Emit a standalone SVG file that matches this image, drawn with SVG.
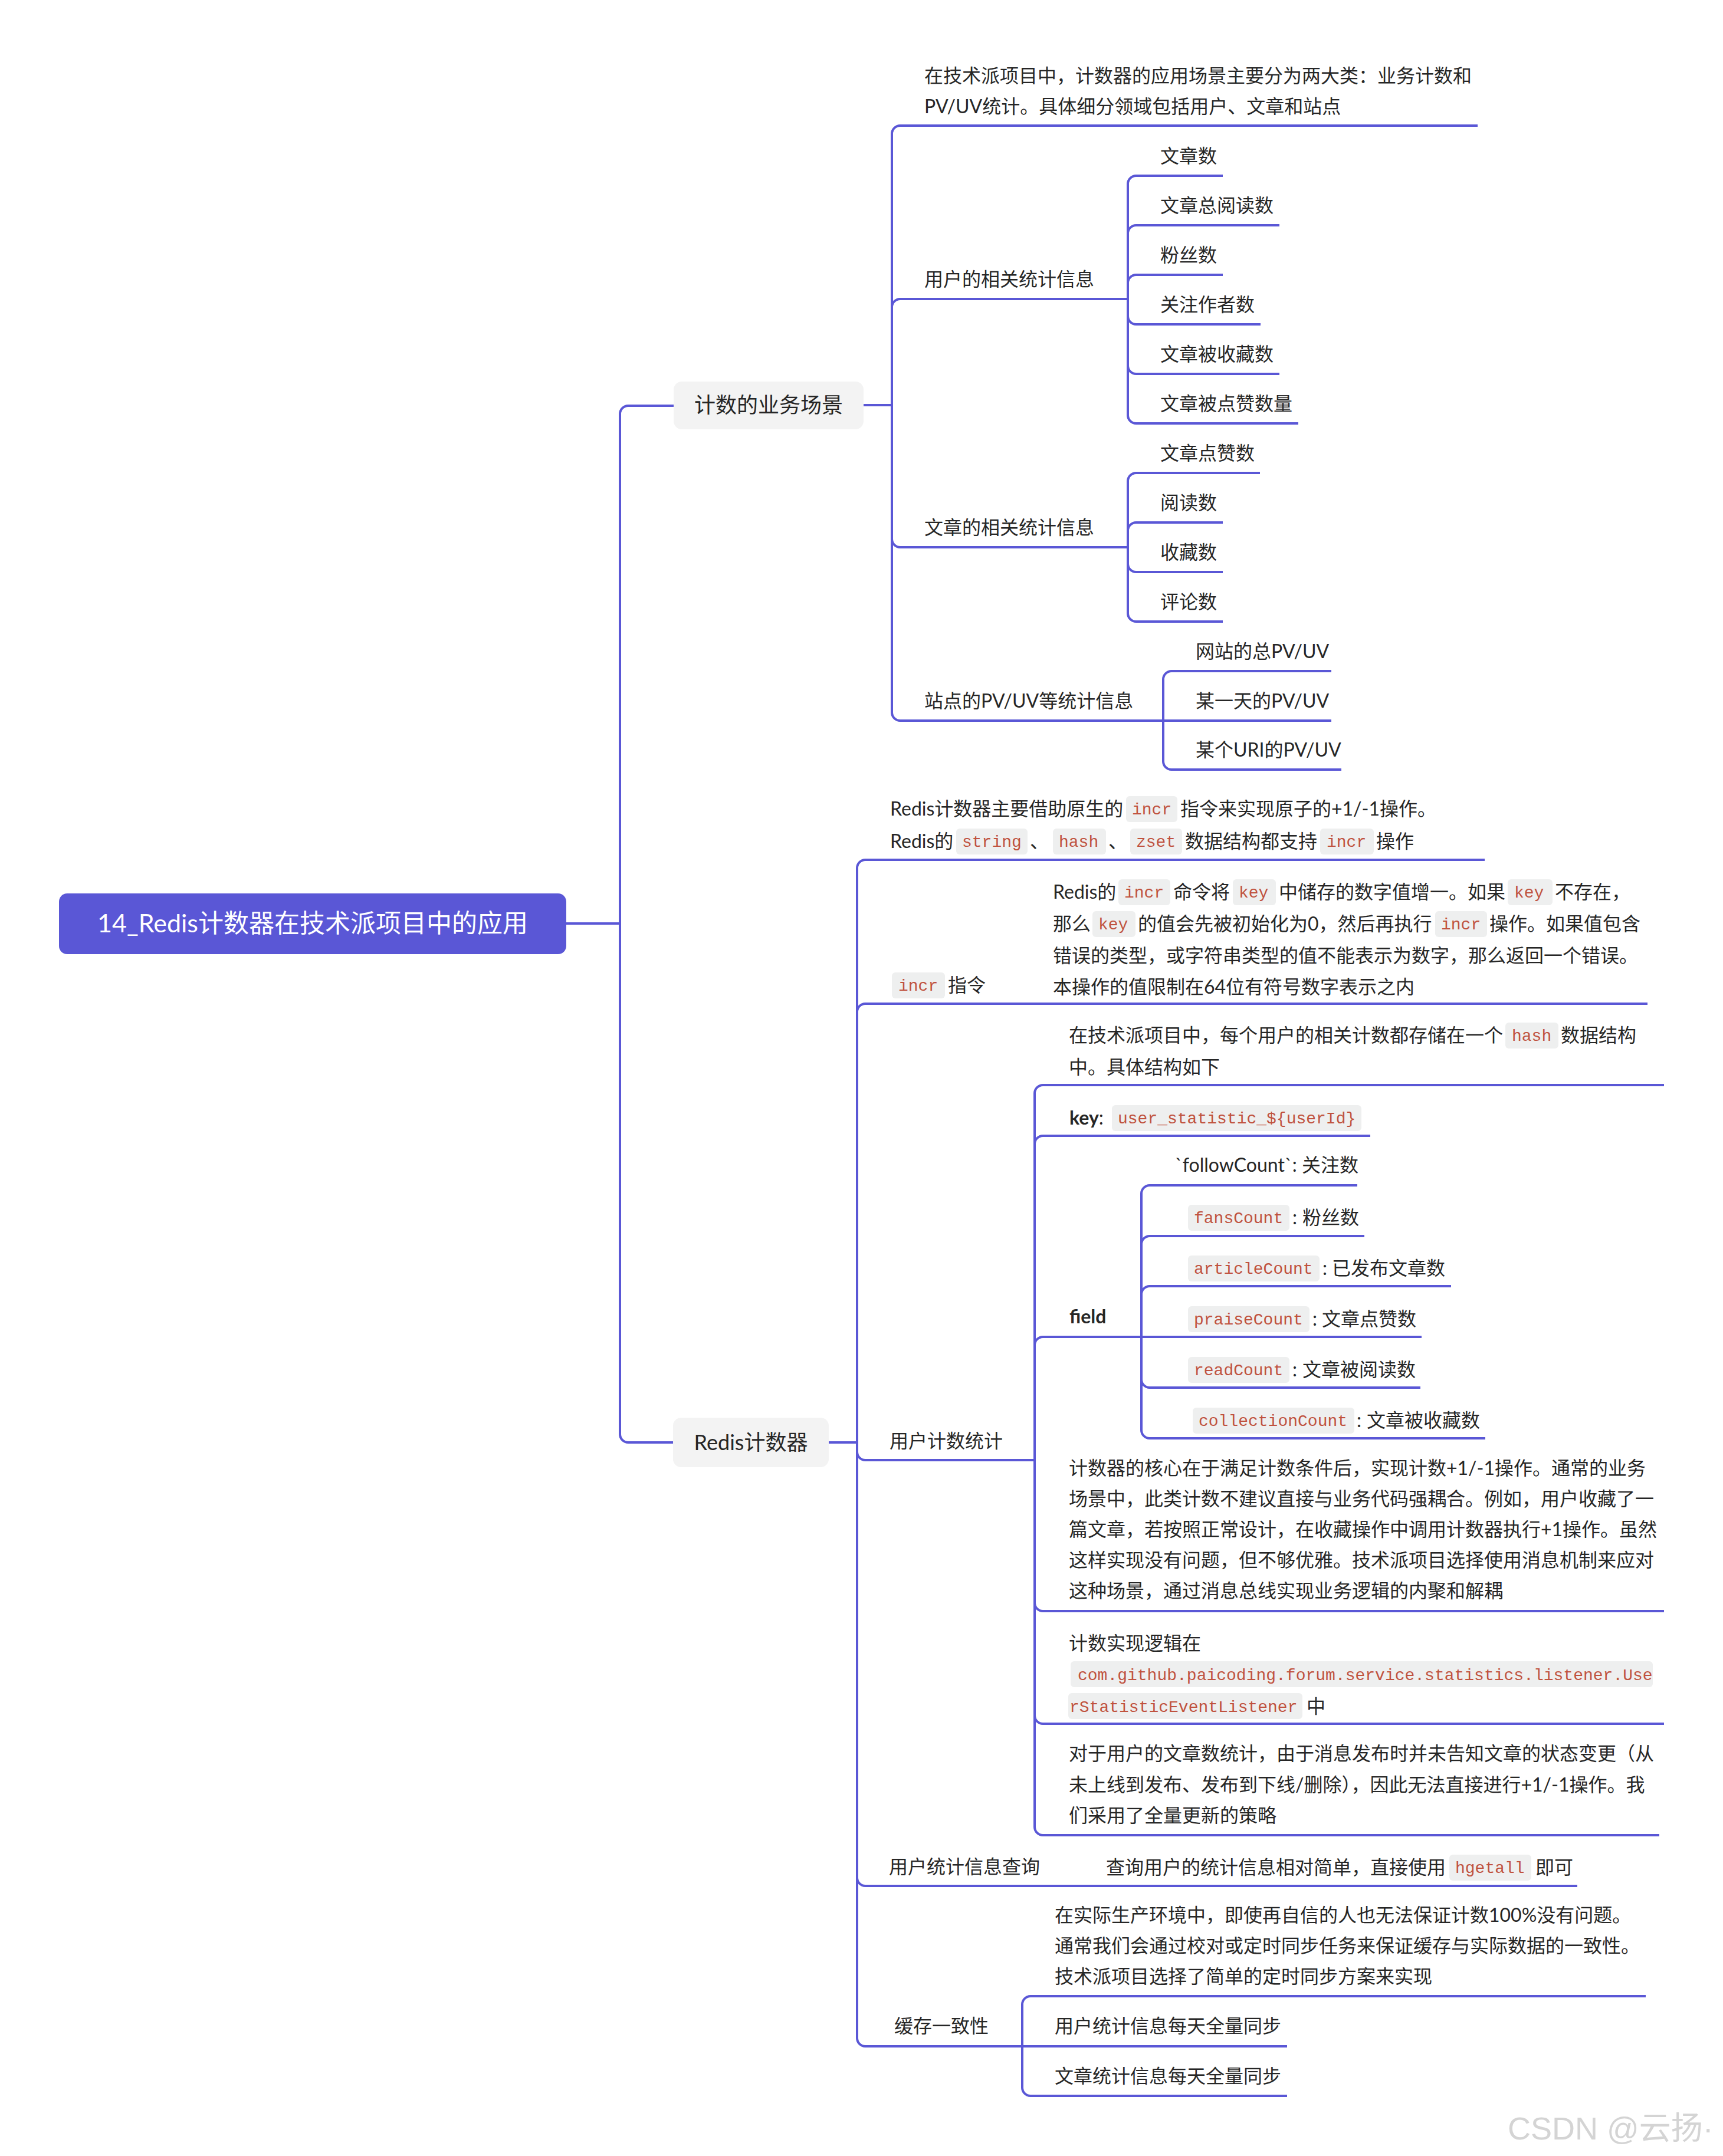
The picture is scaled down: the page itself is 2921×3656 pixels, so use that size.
<svg xmlns="http://www.w3.org/2000/svg" width="2921" height="3656" viewBox="0 0 2921 3656">
<style>
.t{font-family:Lato,"Noto Sans CJK SC",sans-serif;font-size:32px;fill:#262626}
.b{font-weight:bold}
.c{font-family:"Liberation Mono","DejaVu Sans Mono",monospace;font-size:28px;fill:#C0523E}
.chip{fill:#EEEFEF}
.l1{font-family:Lato,"Noto Sans CJK SC",sans-serif;font-size:36px;fill:#262626;text-anchor:middle}
.root{font-family:Lato,"Noto Sans CJK SC",sans-serif;font-size:43px;fill:#FFFFFF;text-anchor:middle}
.ln{fill:none;stroke:#5A57D6;stroke-width:4}
.wm{font-family:"Liberation Sans","Noto Sans CJK SC",sans-serif;font-size:54px;fill:#D4D4D4}
</style>
<rect width="2921" height="3656" fill="#FFFFFF"/>
<g id="connectors" class="ln">
<path d="M960 1566H1051"/>
<path d="M1051 1566V702A14 14 0 0 1 1065 688H1142"/>
<path d="M1051 1566V2432A14 14 0 0 0 1065 2446H1141"/>
<path d="M1464 687H1512"/>
<path d="M1512 687V227A14 14 0 0 1 1526 213H2505"/>
<path d="M1512 687V521A14 14 0 0 1 1526 507H1912"/>
<path d="M1512 687V914A14 14 0 0 0 1526 928H1912"/>
<path d="M1512 687V1208A14 14 0 0 0 1526 1222H1972"/>
<path d="M1912 507V312A14 14 0 0 1 1926 298H2073"/>
<path d="M1912 507V396A14 14 0 0 1 1926 382H2169"/>
<path d="M1912 507V480A14 14 0 0 1 1926 466H2073"/>
<path d="M1912 507V536A14 14 0 0 0 1926 550H2137"/>
<path d="M1912 507V620A14 14 0 0 0 1926 634H2169"/>
<path d="M1912 507V704A14 14 0 0 0 1926 718H2201"/>
<path d="M1912 928V816A14 14 0 0 1 1926 802H2136"/>
<path d="M1912 928V900A14 14 0 0 1 1926 886H2073"/>
<path d="M1912 928V956A14 14 0 0 0 1926 970H2073"/>
<path d="M1912 928V1040A14 14 0 0 0 1926 1054H2073"/>
<path d="M1972 1222V1152A14 14 0 0 1 1986 1138H2257"/>
<path d="M1972 1222H2257"/>
<path d="M1972 1222V1291A14 14 0 0 0 1986 1305H2274"/>
<path d="M1405 2446H1453"/>
<path d="M1453 2446V1472A14 14 0 0 1 1467 1458H2517"/>
<path d="M1453 2446V1716A14 14 0 0 1 1467 1702H2793"/>
<path d="M1453 2446V2462A14 14 0 0 0 1467 2476H1754"/>
<path d="M1453 2446V3184A14 14 0 0 0 1467 3198H2674"/>
<path d="M1453 2446V3456A14 14 0 0 0 1467 3470H1733"/>
<path d="M1754 2476V1854A14 14 0 0 1 1768 1840H2821"/>
<path d="M1754 2476V1940A14 14 0 0 1 1768 1926H2323"/>
<path d="M1754 2476V2281A14 14 0 0 1 1768 2267H1935"/>
<path d="M1754 2476V2718A14 14 0 0 0 1768 2732H2821"/>
<path d="M1754 2476V2909A14 14 0 0 0 1768 2923H2821"/>
<path d="M1754 2476V3098A14 14 0 0 0 1768 3112H2813"/>
<path d="M1935 2267V2024A14 14 0 0 1 1949 2010H2301"/>
<path d="M1935 2267V2110A14 14 0 0 1 1949 2096H2313"/>
<path d="M1935 2267V2195A14 14 0 0 1 1949 2181H2460"/>
<path d="M1935 2267H2410"/>
<path d="M1935 2267V2339A14 14 0 0 0 1949 2353H2408"/>
<path d="M1935 2267V2425A14 14 0 0 0 1949 2439H2518"/>
<path d="M1733 3470V3399A14 14 0 0 1 1747 3385H2790"/>
<path d="M1733 3470H2182"/>
<path d="M1733 3470V3540A14 14 0 0 0 1747 3554H2182"/>
</g>
<g id="root">
<rect x="100" y="1515" width="860" height="103" rx="14" fill="#5A57D6"/>
<text class="root" x="530" y="1581">14_Redis计数器在技术派项目中的应用</text>
</g>
<g id="n-scene">
<rect x="1142" y="647" width="322" height="81" rx="14" fill="#F3F3F3"/>
<text class="l1" x="1303" y="700">计数的业务场景</text>
</g>
<g id="n-redis">
<rect x="1141" y="2404" width="264" height="84" rx="14" fill="#F3F3F3"/>
<text class="l1" x="1273" y="2459">Redis计数器</text>
</g>
<g id="n-scene-intro">
<text class="t" x="1567" y="140">在技术派项目中，计数器的应用场景主要分为两大类：业务计数和</text>
<text class="t" x="1567" y="192">PV/UV统计。具体细分领域包括用户、文章和站点</text>
</g>
<g id="n-user-stat"><text class="t" x="1567" y="485">用户的相关统计信息</text></g>
<g id="n-u1"><text class="t" x="1967" y="276">文章数</text></g>
<g id="n-u2"><text class="t" x="1967" y="360">文章总阅读数</text></g>
<g id="n-u3"><text class="t" x="1967" y="444">粉丝数</text></g>
<g id="n-u4"><text class="t" x="1967" y="528">关注作者数</text></g>
<g id="n-u5"><text class="t" x="1967" y="612">文章被收藏数</text></g>
<g id="n-u6"><text class="t" x="1967" y="696">文章被点赞数量</text></g>
<g id="n-article-stat"><text class="t" x="1567" y="906">文章的相关统计信息</text></g>
<g id="n-a1"><text class="t" x="1967" y="780">文章点赞数</text></g>
<g id="n-a2"><text class="t" x="1967" y="864">阅读数</text></g>
<g id="n-a3"><text class="t" x="1967" y="948">收藏数</text></g>
<g id="n-a4"><text class="t" x="1967" y="1032">评论数</text></g>
<g id="n-site-stat"><text class="t" x="1567" y="1200">站点的PV/UV等统计信息</text></g>
<g id="n-s1"><text class="t" x="2027" y="1116">网站的总PV/UV</text></g>
<g id="n-s2"><text class="t" x="2027" y="1200">某一天的PV/UV</text></g>
<g id="n-s3"><text class="t" x="2027" y="1283">某个URI的PV/UV</text></g>
<g id="n-redis-intro">
<text class="t" x="1509" y="1383">Redis计数器主要借助原生的</text>
<rect class="chip" x="1909" y="1350" width="87" height="44" rx="6"/>
<text class="c" x="1919" y="1381">incr</text>
<text class="t" x="2001" y="1383">指令来实现原子的+1/-1操作。</text>
<text class="t" x="1509" y="1438">Redis的</text>
<rect class="chip" x="1621" y="1405" width="121" height="44" rx="6"/>
<text class="c" x="1631" y="1436">string</text>
<text class="t" x="1746" y="1438">、</text>
<rect class="chip" x="1785" y="1405" width="90" height="44" rx="6"/>
<text class="c" x="1795" y="1436">hash</text>
<text class="t" x="1879" y="1438">、</text>
<rect class="chip" x="1916" y="1405" width="88" height="44" rx="6"/>
<text class="c" x="1926" y="1436">zset</text>
<text class="t" x="2009" y="1438">数据结构都支持</text>
<rect class="chip" x="2238" y="1405" width="91" height="44" rx="6"/>
<text class="c" x="2249" y="1436">incr</text>
<text class="t" x="2333" y="1438">操作</text>
</g>
<g id="n-incr">
<rect class="chip" x="1512" y="1649" width="90" height="44" rx="6"/>
<text class="c" x="1523" y="1680">incr</text>
<text class="t" x="1607" y="1682">指令</text>
</g>
<g id="n-incr-desc">
<text class="t" x="1785" y="1524">Redis的</text>
<rect class="chip" x="1896" y="1491" width="88" height="44" rx="6"/>
<text class="c" x="1906" y="1522">incr</text>
<text class="t" x="1989" y="1524">命令将</text>
<rect class="chip" x="2090" y="1491" width="73" height="44" rx="6"/>
<text class="c" x="2100" y="1522">key</text>
<text class="t" x="2168" y="1524">中储存的数字值增一。如果</text>
<rect class="chip" x="2556" y="1491" width="76" height="44" rx="6"/>
<text class="c" x="2567" y="1522">key</text>
<text class="t" x="2636" y="1524">不存在，</text>
<text class="t" x="1785" y="1578">那么</text>
<rect class="chip" x="1852" y="1545" width="73" height="44" rx="6"/>
<text class="c" x="1862" y="1576">key</text>
<text class="t" x="1929" y="1578">的值会先被初始化为0，然后再执行</text>
<rect class="chip" x="2433" y="1545" width="88" height="44" rx="6"/>
<text class="c" x="2443" y="1576">incr</text>
<text class="t" x="2525" y="1578">操作。如果值包含</text>
<text class="t" x="1785" y="1632">错误的类型，或字符串类型的值不能表示为数字，那么返回一个错误。</text>
<text class="t" x="1785" y="1685">本操作的值限制在64位有符号数字表示之内</text>
</g>
<g id="n-user-count"><text class="t" x="1508" y="2455">用户计数统计</text></g>
<g id="n-hash-desc">
<text class="t" x="1812" y="1767">在技术派项目中，每个用户的相关计数都存储在一个</text>
<rect class="chip" x="2552" y="1734" width="90" height="44" rx="6"/>
<text class="c" x="2563" y="1765">hash</text>
<text class="t" x="2646" y="1767">数据结构</text>
<text class="t" x="1812" y="1821">中。具体结构如下</text>
</g>
<g id="n-key">
<text class="t" x="1813" y="1907"><tspan class="b">key</tspan>:</text>
<rect class="chip" x="1885" y="1874" width="423" height="44" rx="6"/>
<text class="c" x="1895" y="1905">user_statistic_${userId}</text>
</g>
<g id="n-field"><text class="t b" x="1813" y="2244">field</text></g>
<g id="n-f1"><text class="t" x="1992" y="1987">`followCount`: 关注数</text></g>
<g id="n-f2">
<rect class="chip" x="2014" y="2043" width="172" height="44" rx="6"/>
<text class="c" x="2024" y="2074">fansCount</text>
<text class="t" x="2191" y="2076">:</text>
<text class="t" x="2208" y="2076">粉丝数</text>
</g>
<g id="n-f3">
<rect class="chip" x="2014" y="2129" width="223" height="44" rx="6"/>
<text class="c" x="2024" y="2160">articleCount</text>
<text class="t" x="2242" y="2162">:</text>
<text class="t" x="2258" y="2162">已发布文章数</text>
</g>
<g id="n-f4">
<rect class="chip" x="2014" y="2215" width="206" height="44" rx="6"/>
<text class="c" x="2024" y="2246">praiseCount</text>
<text class="t" x="2225" y="2248">:</text>
<text class="t" x="2241" y="2248">文章点赞数</text>
</g>
<g id="n-f5">
<rect class="chip" x="2014" y="2301" width="172" height="44" rx="6"/>
<text class="c" x="2024" y="2332">readCount</text>
<text class="t" x="2191" y="2334">:</text>
<text class="t" x="2208" y="2334">文章被阅读数</text>
</g>
<g id="n-f6">
<rect class="chip" x="2022" y="2387" width="274" height="44" rx="6"/>
<text class="c" x="2032" y="2418">collectionCount</text>
<text class="t" x="2300" y="2420">:</text>
<text class="t" x="2317" y="2420">文章被收藏数</text>
</g>
<g id="n-core">
<text class="t" x="1812" y="2501">计数器的核心在于满足计数条件后，实现计数+1/-1操作。通常的业务</text>
<text class="t" x="1812" y="2553">场景中，此类计数不建议直接与业务代码强耦合。例如，用户收藏了一</text>
<text class="t" x="1812" y="2605">篇文章，若按照正常设计，在收藏操作中调用计数器执行+1操作。虽然</text>
<text class="t" x="1812" y="2657">这样实现没有问题，但不够优雅。技术派项目选择使用消息机制来应对</text>
<text class="t" x="1812" y="2709">这种场景，通过消息总线实现业务逻辑的内聚和解耦</text>
</g>
<g id="n-impl">
<text class="t" x="1812" y="2798">计数实现逻辑在</text>
<rect class="chip" x="1815" y="2817" width="987" height="44" rx="6"/>
<text class="c" x="1827" y="2849">com.github.paicoding.forum.service.statistics.listener.Use</text>
<rect class="chip" x="1811" y="2871" width="397" height="44" rx="6"/>
<text class="c" x="1813" y="2903">rStatisticEventListener</text>
<text class="t" x="2215" y="2905">中</text>
</g>
<g id="n-article-count">
<text class="t" x="1812" y="2985">对于用户的文章数统计，由于消息发布时并未告知文章的状态变更（从</text>
<text class="t" x="1812" y="3038">未上线到发布、发布到下线/删除），因此无法直接进行+1/-1操作。我</text>
<text class="t" x="1812" y="3090">们采用了全量更新的策略</text>
</g>
<g id="n-query"><text class="t" x="1507" y="3177">用户统计信息查询</text></g>
<g id="n-query-desc">
<text class="t" x="1875" y="3178">查询用户的统计信息相对简单，直接使用</text>
<rect class="chip" x="2457" y="3145" width="139" height="44" rx="6"/>
<text class="c" x="2467" y="3176">hgetall</text>
<text class="t" x="2603" y="3178">即可</text>
</g>
<g id="n-cache"><text class="t" x="1516" y="3447">缓存一致性</text></g>
<g id="n-cache-desc">
<text class="t" x="1788" y="3259">在实际生产环境中，即使再自信的人也无法保证计数100%没有问题。</text>
<text class="t" x="1788" y="3311">通常我们会通过校对或定时同步任务来保证缓存与实际数据的一致性。</text>
<text class="t" x="1788" y="3363">技术派项目选择了简单的定时同步方案来实现</text>
</g>
<g id="n-c1"><text class="t" x="1788" y="3447">用户统计信息每天全量同步</text></g>
<g id="n-c2"><text class="t" x="1788" y="3532">文章统计信息每天全量同步</text></g>
<text class="wm" x="2556" y="3628">CSDN @云扬·</text>
</svg>
